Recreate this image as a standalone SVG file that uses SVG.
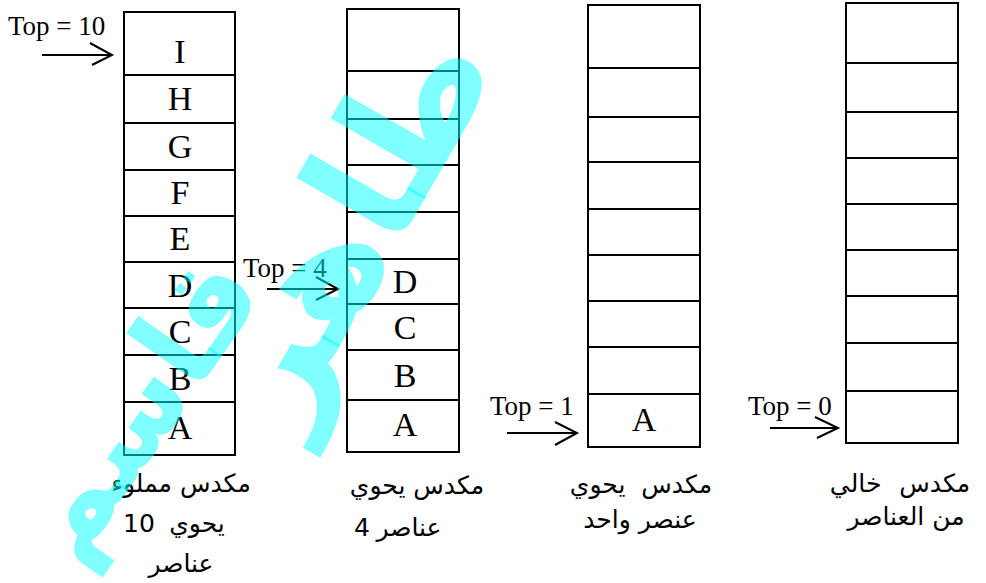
<svg xmlns="http://www.w3.org/2000/svg" width="986" height="583" viewBox="0 0 986 583">
<style>
.cell{fill:#fff;stroke:#000;stroke-width:2}
.lbl{font-family:"Liberation Serif","Times New Roman",serif;font-size:34px;text-anchor:middle;fill:#000}
.top{font-family:"Liberation Serif","Times New Roman",serif;font-size:27px;fill:#000}
.ar{font-family:"DejaVu Sans",sans-serif;font-size:25px;text-anchor:middle;fill:#000}
.arw{fill:none;stroke:#000;stroke-width:2}
.wm{font-family:"DejaVu Sans",sans-serif;font-weight:bold;fill:#00ffff;fill-opacity:0.5;text-anchor:middle}
</style>
<rect width="986" height="583" fill="#fff"/>
<g id="stack-full">
<rect class="cell" x="124" y="12" width="111" height="63"/>
<rect class="cell" x="124" y="75" width="111" height="48"/>
<rect class="cell" x="124" y="123" width="111" height="47"/>
<rect class="cell" x="124" y="170" width="111" height="46"/>
<rect class="cell" x="124" y="216" width="111" height="46"/>
<rect class="cell" x="124" y="262" width="111" height="46"/>
<rect class="cell" x="124" y="308" width="111" height="47"/>
<rect class="cell" x="124" y="355" width="111" height="47"/>
<rect class="cell" x="124" y="402" width="111" height="53"/>
<text class="lbl" x="180" y="63">I</text>
<text class="lbl" x="180" y="110">H</text>
<text class="lbl" x="180" y="158">G</text>
<text class="lbl" x="180" y="204">F</text>
<text class="lbl" x="180" y="250">E</text>
<text class="lbl" x="180" y="297">D</text>
<text class="lbl" x="180" y="343">C</text>
<text class="lbl" x="180" y="390">B</text>
<text class="lbl" x="180" y="439">A</text>
<text class="ar" x="181" y="492">مكدس مملوء</text>
<text class="ar" x="139" y="532">10</text>
<text class="ar" x="197" y="532">يحوي</text>
<text class="ar" x="181" y="572">عناصر</text>
</g>
<g id="stack-four">
<rect class="cell" x="347" y="9" width="112" height="62"/>
<rect class="cell" x="347" y="71" width="112" height="48"/>
<rect class="cell" x="347" y="119" width="112" height="46"/>
<rect class="cell" x="347" y="165" width="112" height="47"/>
<rect class="cell" x="347" y="212" width="112" height="47"/>
<rect class="cell" x="347" y="259" width="112" height="45"/>
<rect class="cell" x="347" y="304" width="112" height="46"/>
<rect class="cell" x="347" y="350" width="112" height="50"/>
<rect class="cell" x="347" y="400" width="112" height="52"/>
<text class="lbl" x="405" y="293">D</text>
<text class="lbl" x="405" y="339">C</text>
<text class="lbl" x="405" y="387">B</text>
<text class="lbl" x="405" y="436">A</text>
<text class="ar" x="417" y="494">مكدس يحوي</text>
<text class="ar" x="362" y="536">4</text>
<text class="ar" x="409" y="536">عناصر</text>
</g>
<g id="stack-one">
<rect class="cell" x="588" y="5" width="112" height="63"/>
<rect class="cell" x="588" y="68" width="112" height="49"/>
<rect class="cell" x="588" y="117" width="112" height="45"/>
<rect class="cell" x="588" y="162" width="112" height="47"/>
<rect class="cell" x="588" y="209" width="112" height="46"/>
<rect class="cell" x="588" y="255" width="112" height="46"/>
<rect class="cell" x="588" y="301" width="112" height="46"/>
<rect class="cell" x="588" y="347" width="112" height="47"/>
<rect class="cell" x="588" y="394" width="112" height="53"/>
<text class="lbl" x="644" y="431">A</text>
<text class="ar" x="641" y="493" word-spacing="8">مكدس يحوي</text>
<text class="ar" x="640" y="528">عنصر واحد</text>
</g>
<g id="stack-empty">
<rect class="cell" x="846" y="3" width="112" height="60"/>
<rect class="cell" x="846" y="63" width="112" height="49"/>
<rect class="cell" x="846" y="112" width="112" height="46"/>
<rect class="cell" x="846" y="158" width="112" height="46"/>
<rect class="cell" x="846" y="204" width="112" height="46"/>
<rect class="cell" x="846" y="250" width="112" height="46"/>
<rect class="cell" x="846" y="296" width="112" height="47"/>
<rect class="cell" x="846" y="343" width="112" height="48"/>
<rect class="cell" x="846" y="391" width="112" height="52"/>
<text class="ar" x="900" y="492" word-spacing="10">مكدس خالي</text>
<text class="ar" x="906" y="525">من العناصر</text>
</g>
<g id="top-pointers">
<text class="top" x="8" y="35">Top = 10</text>
<polyline class="arw" points="42,55 112,55"/>
<polyline class="arw" points="90,43 112,55 92,65"/>
<text class="top" x="243" y="277">Top = 4</text>
<polyline class="arw" points="267,289 338,289"/>
<polyline class="arw" points="316,277 338,289 316,300"/>
<text class="top" x="490" y="415">Top = 1</text>
<polyline class="arw" points="507,433 577,433"/>
<polyline class="arw" points="555,422 577,433 555,445"/>
<text class="top" x="748" y="415">Top = 0</text>
<polyline class="arw" points="770,428 838,428"/>
<polyline class="arw" points="815,417 838,428 817,438"/>
</g>
<g id="watermark">
<text class="wm" font-size="160" transform="translate(395,250) rotate(-60)">طاهر</text>
<text class="wm" font-size="120" transform="translate(170,430) rotate(-55)">قاسم</text>
</g>
</svg>
